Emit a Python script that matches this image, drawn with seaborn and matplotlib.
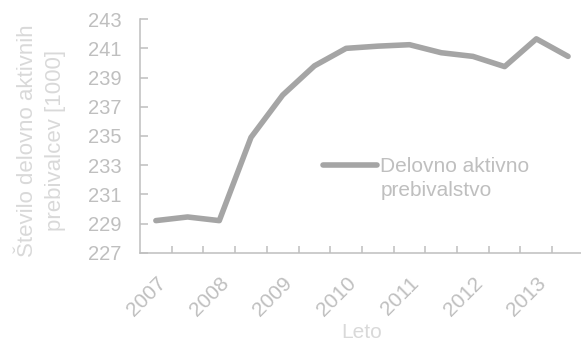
import numpy as np
import pandas as pd
import matplotlib
matplotlib.use("Agg")
import matplotlib.pyplot as plt
import seaborn as sns

# Half-yearly employed population (thousands), 2007-2013
periods = ["2007 I", "2007 II", "2008 I", "2008 II", "2009 I", "2009 II",
           "2010 I", "2010 II", "2011 I", "2011 II", "2012 I", "2012 II",
           "2013 I", "2013 II"]
employed = [229.2, 229.45, 229.2, 234.9, 237.8, 239.8, 241.0, 241.15,
            241.25, 240.7, 240.45, 239.75, 241.65, 240.45]
year_labels = ["2007", "2008", "2009", "2010", "2011", "2012", "2013"]
y_ticks = [227, 229, 231, 233, 235, 237, 239, 241, 243]

series_name = "Delovno aktivno\nprebivalstvo"

sns.set_theme(style="white")
plt.rcParams["font.family"] = ["Liberation Sans", "DejaVu Sans"]

LINE = "#A5A5A5"
AXIS = "#BFBFBF"
TICKTXT = "#BFBFBF"
LABELTXT = "#D9D9D9"

df = pd.DataFrame({"pos": np.arange(len(periods)), "value": employed,
                   "series": series_name})

fig = plt.figure(figsize=(5.81, 3.42), dpi=100)
ax = fig.add_axes([0.241, 0.261, 0.764, 0.683])

sns.lineplot(data=df, x="pos", y="value", hue="series", palette=[LINE],
             linewidth=4.0, ax=ax, solid_capstyle="round")

ax.set_xlim(-0.5, len(periods) - 0.5)
ax.set_ylim(y_ticks[0], y_ticks[-1])

for side in ["top", "right"]:
    ax.spines[side].set_visible(False)
for side in ["left", "bottom"]:
    ax.spines[side].set_color(AXIS)
    ax.spines[side].set_linewidth(1.1)

ax.set_yticks(y_ticks)
ax.set_yticklabels([str(t) for t in y_ticks])
ax.tick_params(axis="y", direction="in", length=6, width=1.1, color=AXIS,
               labelsize=14.5, labelcolor=TICKTXT, pad=13.5, left=True)

ax.set_xticks(np.arange(0, len(periods), 2))
ax.set_xticklabels(year_labels)
ax.set_xticks(np.arange(0.5, len(periods) - 0.5, 1), minor=True)
ax.tick_params(axis="x", which="major", length=0, labelsize=15,
               labelcolor=TICKTXT, pad=15)
ax.tick_params(axis="x", which="minor", direction="in", length=5, width=1.1,
               color=AXIS, bottom=True)
for lbl in ax.get_xticklabels():
    lbl.set_rotation(45)
    lbl.set_ha("right")
    lbl.set_va("top")
    lbl.set_rotation_mode("anchor")

ax.set_xlabel("Leto", fontsize=15, color=LABELTXT, labelpad=2)
ax.set_ylabel("")
fig.text(0.0715, 0.588, "Število delovno aktivnih\nprebivalcev [1000]",
         rotation=90, ha="center", va="center", fontsize=16,
         color=LABELTXT, linespacing=1.4, multialignment="center")

leg = ax.legend(loc="upper left", bbox_to_anchor=(0.37, 0.49), frameon=False,
                fontsize=15, handlelength=2.6, handletextpad=0.15,
                handleheight=0.9, labelcolor=TICKTXT)
for line in leg.get_lines():
    line.set_linewidth(4.0)
    line.set_solid_capstyle("round")
for txt in leg.get_texts():
    txt.set_linespacing(1.35)
# keep the legend key level with the first line of the two-line label
for column in leg._legend_handle_box.get_children():
    for item in column.get_children():
        item.align = "top"

ax.grid(False)
fig.savefig("out.png", dpi=100)
